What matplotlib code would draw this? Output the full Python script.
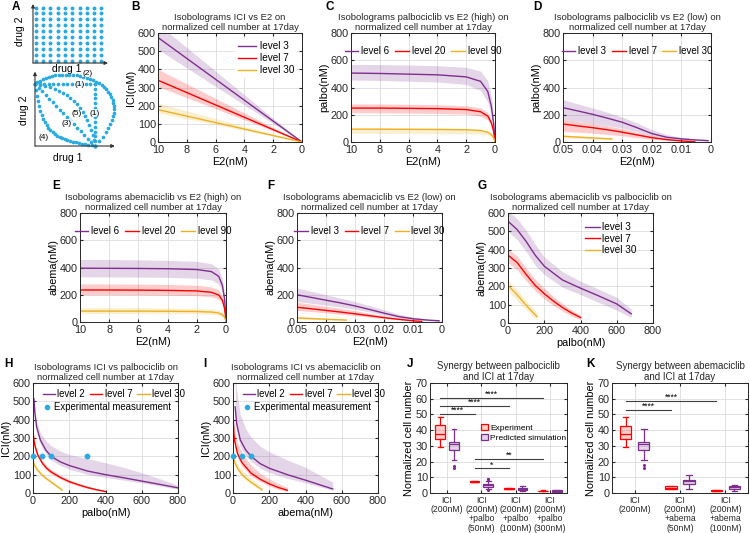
import matplotlib
matplotlib.use('Agg')
import matplotlib.pyplot as plt
from matplotlib.patches import Patch
from matplotlib.lines import Line2D
from matplotlib.colors import to_rgba
import numpy as np

plt.rcParams['font.family'] = ['Liberation Sans', 'DejaVu Sans']

PURPLE = '#7E2F8E'
RED = '#FF0000'
YELLOW = '#EDB120'
DOT = '#29ABE2'

# ---------------- data ----------------
# B: ICI vs E2
b_x = [10, 0]
b_l3 = [575, 0];  b_l3_lo = [510, 0]; b_l3_hi = [650, 0]
b_l7 = [340, 0];  b_l7_lo = [305, 0]; b_l7_hi = [400, 0]
b_l30 = [178, 0]; b_l30_lo = [160, 0]; b_l30_hi = [215, 0]

# C / E: high E2 range
hi_x = [10, 8, 6, 4, 2, 1, 0.5, 0.25, 0.1, 0.03, 0]
c_l6 = [506, 503, 498, 493, 478, 445, 370, 260, 140, 50, 0]
c_l6_hi = [570, 568, 565, 560, 548, 520, 450, 330, 180, 65, 0]
c_l6_lo = [455, 452, 446, 440, 422, 378, 290, 200, 100, 35, 0]
c_l20 = [249, 249, 247, 245, 238, 222, 190, 140, 80, 30, 0]
c_l20_hi = [280, 279, 277, 274, 266, 250, 215, 160, 92, 35, 0]
c_l20_lo = [215, 214, 212, 210, 204, 190, 160, 118, 66, 25, 0]
c_l90 = [94, 94, 93, 92, 90, 84, 72, 54, 32, 12, 0]
c_l90_hi = [104, 104, 103, 102, 99, 93, 80, 60, 36, 14, 0]
c_l90_lo = [62, 62, 62, 61, 60, 57, 50, 38, 22, 8, 0]

e_l6 = [395, 394, 393, 391, 385, 370, 335, 270, 170, 70, 0]
e_l6_hi = [460, 458, 456, 452, 445, 428, 390, 315, 200, 85, 0]
e_l6_lo = [332, 331, 330, 328, 322, 308, 278, 222, 140, 55, 0]
e_l20 = [235, 235, 234, 232, 228, 218, 198, 160, 100, 40, 0]
e_l20_hi = [280, 279, 278, 276, 270, 258, 235, 190, 120, 48, 0]
e_l20_lo = [200, 200, 199, 197, 193, 185, 168, 135, 85, 33, 0]
e_l90 = [80, 80, 80, 79, 77, 73, 66, 54, 34, 14, 0]
e_l90_hi = [105, 105, 104, 103, 100, 95, 86, 70, 44, 18, 0]
e_l90_lo = [62, 62, 62, 61, 60, 57, 51, 42, 26, 10, 0]

# D / F: low E2 range
lo_x3 = [0.05, 0.045, 0.04, 0.035, 0.03, 0.025, 0.02, 0.015, 0.01, 0.005, 0.001]
d_l3 = [252, 228, 203, 175, 145, 105, 62, 35, 23, 15, 10]
d_l3_hi = [310, 280, 250, 218, 183, 140, 90, 55, 33, 20, 13]
d_l3_lo = [168, 152, 135, 120, 103, 75, 42, 25, 16, 10, 7]
d_x7 = [0.05, 0.045, 0.04, 0.035, 0.03, 0.025, 0.02, 0.015, 0.01, 0.0055]
d_l7 = [132, 118, 105, 90, 72, 52, 32, 18, 8, 2]
d_l7_hi = [168, 150, 135, 118, 98, 72, 45, 26, 12, 3]
d_l7_lo = [78, 72, 65, 55, 45, 32, 20, 11, 5, 1]
d_x30 = [0.05, 0.045, 0.04, 0.035, 0.0335]
d_l30 = [42, 36, 30, 24, 22]
d_l30_hi = [52, 45, 38, 31, 28]
d_l30_lo = [30, 26, 22, 18, 16]

f_l3 = [200, 180, 160, 140, 118, 92, 65, 40, 24, 14, 9]
f_l3_hi = [250, 225, 200, 175, 150, 120, 90, 58, 35, 20, 13]
f_l3_lo = [150, 137, 124, 110, 95, 74, 50, 30, 17, 10, 6]
f_x7 = [0.05, 0.045, 0.04, 0.035, 0.03, 0.025, 0.02, 0.015, 0.01, 0.007]
f_l7 = [108, 97, 85, 73, 60, 46, 32, 20, 9, 4]
f_l7_hi = [145, 130, 115, 100, 83, 65, 45, 28, 13, 6]
f_l7_lo = [85, 76, 67, 57, 47, 36, 25, 15, 7, 3]
f_x30 = [0.05, 0.045, 0.04, 0.035, 0.033]
f_l30 = [30, 25, 20, 16, 14]
f_l30_hi = [42, 35, 29, 23, 21]
f_l30_lo = [22, 18, 14, 11, 10]

# G: abema vs palbo
g_x3 = [0, 50, 100, 150, 200, 300, 400, 500, 600, 680]
g_l3 = [555, 510, 445, 370, 310, 235, 190, 148, 104, 50]
g_l3_hi = [610, 570, 505, 430, 360, 280, 228, 185, 140, 75]
g_l3_lo = [500, 455, 390, 315, 265, 195, 155, 112, 70, 30]
g_x7 = [0, 50, 100, 150, 200, 250, 300, 350, 400]
g_l7 = [370, 330, 265, 205, 160, 120, 85, 55, 30]
g_l7_hi = [405, 365, 300, 238, 190, 145, 107, 72, 42]
g_l7_lo = [330, 290, 230, 175, 132, 95, 65, 38, 18]
g_x30 = [0, 40, 80, 120, 160]
g_l30 = [205, 165, 120, 75, 35]
g_l30_hi = [235, 195, 148, 100, 55]
g_l30_lo = [175, 135, 92, 52, 18]

# H: ICI vs palbo
h_x2 = [5, 10, 20, 40, 70, 100, 150, 200, 300, 400, 500, 600, 700, 800]
h_l2 = [515, 440, 360, 290, 235, 200, 170, 150, 120, 100, 83, 65, 47, 28]
h_l2_hi = [520, 460, 390, 330, 285, 258, 230, 210, 188, 165, 140, 110, 78, 42]
h_l2_lo = [510, 425, 340, 270, 215, 180, 150, 130, 102, 85, 70, 55, 38, 20]
h_x7 = [0, 5, 10, 25, 50, 75, 100, 150, 200, 250, 300, 350, 400]
h_l7 = [340, 290, 260, 210, 165, 135, 115, 85, 62, 45, 30, 18, 8]
h_l7_hi = [350, 305, 275, 225, 180, 150, 128, 96, 72, 53, 37, 24, 12]
h_l7_lo = [330, 278, 248, 198, 153, 124, 104, 76, 54, 38, 24, 13, 5]
h_x30 = [0, 5, 10, 25, 50, 75, 100, 130, 160]
h_l30 = [180, 160, 148, 125, 98, 78, 60, 38, 16]
h_l30_hi = [185, 168, 156, 135, 108, 88, 70, 48, 24]
h_l30_lo = [175, 152, 140, 117, 90, 70, 52, 32, 12]
h_exp_x = [0, 50, 100, 300]
h_exp_y = [200, 200, 200, 200]

# I: ICI vs abema
i_x2 = [12, 20, 40, 70, 100, 150, 200, 300, 400, 550]
i_l2 = [470, 380, 290, 235, 200, 160, 135, 100, 70, 22]
i_l2_hi = [640, 560, 430, 350, 305, 255, 225, 180, 140, 60]
i_l2_lo = [430, 340, 255, 205, 172, 135, 112, 80, 55, 15]
i_x7 = [2, 5, 10, 25, 50, 100, 150, 200, 250, 300]
i_l7 = [390, 320, 280, 215, 165, 108, 75, 50, 30, 15]
i_l7_hi = [440, 380, 340, 275, 218, 150, 108, 78, 52, 30]
i_l7_lo = [350, 290, 250, 192, 146, 92, 62, 38, 20, 8]
i_x30 = [0, 10, 25, 50, 75, 100, 130, 160]
i_l30 = [200, 165, 135, 100, 78, 58, 38, 18]
i_l30_hi = [215, 185, 160, 125, 100, 80, 55, 30]
i_l30_lo = [185, 150, 120, 88, 65, 48, 30, 12]
i_exp_x = [0, 50, 100]
i_exp_y = [200, 200, 200]

# J: palbo + ICI boxplots
j_labels = ['ICI\n(200nM)', 'ICI\n(200nM)\n+palbo\n(50nM)',
            'ICI\n(200nM)\n+palbo\n(100nM)', 'ICI\n(200nM)\n+palbo\n(300nM)']
j_exp_med = [37.5, 7.2, 2.8, 1.3]
j_exp_q1 = [34.2, 7.0, 2.6, 1.1]
j_exp_q3 = [43.0, 7.4, 3.0, 1.5]
j_exp_lo = [29.5, 6.9, 2.5, 1.0]
j_exp_hi = [48.2, 7.5, 3.1, 1.6]
j_sim_med = [31.0, 4.9, 2.8, 1.3]
j_sim_q1 = [27.3, 4.0, 2.2, 0.9]
j_sim_q3 = [32.6, 5.8, 3.4, 1.7]
j_sim_lo = [20.8, 2.8, 1.5, 0.6]
j_sim_hi = [40.5, 7.8, 4.2, 2.1]
j_sim_fl = [[17.5, 16.0], [8.6, 2.2, 9.0], [], []]
j_sig = [(1, 4, 60.3, '****'), (1, 3, 55.4, '****'), (1, 2, 50.3, '****'),
         (2, 4, 21.5, '**'), (2, 3, 15.6, '*')]

# K: abema + ICI boxplots
k_labels = ['ICI\n(200nM)', 'ICI\n(200nM)\n+abema\n(50nM)', 'ICI\n(200nM)\n+abema\n(100nM)']
k_exp_med = [37.3, 3.5, 1.5]
k_exp_q1 = [34.3, 2.8, 1.2]
k_exp_q3 = [42.9, 4.3, 1.8]
k_exp_lo = [29.4, 2.6, 1.1]
k_exp_hi = [48.2, 4.5, 1.9]
k_sim_med = [31.1, 7.5, 3.6]
k_sim_q1 = [27.3, 5.5, 2.8]
k_sim_q3 = [32.6, 8.5, 4.5]
k_sim_lo = [20.9, 2.8, 1.3]
k_sim_hi = [40.5, 11.3, 5.3]
k_sim_fl = [[17.7, 16.2], [], []]
k_sig = [(1, 3, 58.6, '****'), (1, 2, 52.9, '****')]

# ---------------- layout ----------------
W, H = 750, 533
fig = plt.figure(figsize=(7.5, 5.33), dpi=100)


def box(l, t, r, b):
    return [l / W, 1 - b / H, (r - l) / W, (b - t) / H]


def style(ax):
    ax.grid(True, color='#dcdcdc', lw=0.6)
    ax.set_axisbelow(True)
    for s in ax.spines.values():
        s.set_color('#262626')
        s.set_linewidth(0.7)
    ax.tick_params(labelsize=7.8, length=2, pad=1.5, direction='in',
                   top=True, right=True, colors='#262626')
    ax.tick_params(axis='x', pad=2.5)


def band(ax, x, y, lo, hi, c, label):
    ax.fill_between(x, lo, hi, color=c, alpha=0.2, lw=0)
    ax.plot(x, y, color=c, lw=1.0, label=label)


def iso_title(ax, s):
    ax.set_title(s + '\nnormalized cell number at 17day', fontsize=6.8,
                 pad=2, linespacing=1.15, color='#262626')


def hleg(ax):
    ax.legend(loc='upper center', ncol=3, fontsize=7, frameon=False,
              handlelength=1.4, handletextpad=0.3, columnspacing=0.6,
              bbox_to_anchor=(0.5, 0.93), borderaxespad=0.2)


# ---- A ----
axa = fig.add_axes(box(33, 4, 108, 63))
axa.set_xlim(-0.4, 9.9)
axa.set_ylim(-0.35, 9.6)
axa.axis('off')
grid_doses = np.arange(10)
gx, gy = np.meshgrid(grid_doses, grid_doses)
axa.scatter(gx.ravel(), gy.ravel(), s=8, color=DOT, lw=0)
for xy in [(9.9, -0.35), (-0.4, 9.6)]:
    axa.annotate('', xy=xy, xytext=(-0.4, -0.35),
                 arrowprops=dict(arrowstyle='-|>', color='#333333', lw=0.8,
                                 mutation_scale=5, shrinkA=0, shrinkB=0))
axa.text(4.3, -0.55, 'drug 1', ha='center', va='top', fontsize=7.5)
axa.text(-1.5, 5, 'drug 2', ha='right', va='center', rotation=90, fontsize=7.5)

axa2 = fig.add_axes(box(33, 70, 122, 148))
axa2.set_xlim(-0.033, 1.45)
axa2.set_ylim(-0.032, 1.226)
axa2.axis('off')
for xy in [(1.33, 0), (0, 1.2)]:
    axa2.annotate('', xy=xy, xytext=(0, 0),
                  arrowprops=dict(arrowstyle='-|>', color='#333333', lw=0.8,
                                  mutation_scale=5, shrinkA=0, shrinkB=0))
P2 = np.array([0.0, 1.0])
P1 = np.array([1.0, 0.0])
corner = np.array([1.0, 1.0])


def bez(pts, n):
    t = np.linspace(0, 1, n)[:, None]
    pts = [np.array(p) for p in pts]
    if len(pts) == 2:
        return (1 - t) * pts[0] + t * pts[1]
    if len(pts) == 3:
        return (1 - t) ** 2 * pts[0] + 2 * (1 - t) * t * pts[1] + t ** 2 * pts[2]
    return ((1 - t) ** 3 * pts[0] + 3 * (1 - t) ** 2 * t * pts[1]
            + 3 * (1 - t) * t ** 2 * pts[2] + t ** 3 * pts[3])


curves = [bez([P2, corner], 14), bez([corner, P1], 14),
          bez([P2, (0.5, 1.4), (1.95, 1.0), P1], 40),
          bez([P2, (0.85, 0.9), P1], 20),
          bez([P2, P1], 18),
          bez([P2, (0.1, 0.05), (0.5, 0.1), P1], 28)]
for cv in curves:
    axa2.scatter(cv[:, 0], cv[:, 1], s=7, color=DOT, lw=0, clip_on=False)
for (tx, ty, s) in [(0.75, 1.0, '(1)'), (1.0, 0.53, '(1)'), (0.88, 1.17, '(2)'),
                    (0.7, 0.52, '(5)'), (0.53, 0.37, '(3)'), (0.14, 0.14, '(4)')]:
    axa2.text(tx, ty, s, fontsize=6, ha='center', va='center',
              bbox=dict(fc='white', ec='none', pad=0.2, alpha=0.8))
axa2.text(0.55, -0.12, 'drug 1', ha='center', va='top', fontsize=7.5)
axa2.text(-0.1, 0.58, 'drug 2', ha='right', va='center', rotation=90, fontsize=7.5)

# ---- B ----
ax = fig.add_axes(box(158, 33, 302, 142))
style(ax)
band(ax, b_x, b_l3, b_l3_lo, b_l3_hi, PURPLE, 'level 3')
band(ax, b_x, b_l7, b_l7_lo, b_l7_hi, RED, 'level 7')
band(ax, b_x, b_l30, b_l30_lo, b_l30_hi, YELLOW, 'level 30')
ax.set_xlim(10, 0)
ax.set_ylim(0, 600)
ax.set_xticks([10, 8, 6, 4, 2, 0])
ax.set_yticks(range(0, 601, 100))
ax.set_xlabel('E2(nM)', fontsize=7.8, labelpad=1)
ax.set_ylabel('ICI(nM)', fontsize=7.8, labelpad=1)
iso_title(ax, 'Isobolograms ICI vs E2 on')
ax.legend(loc='upper right', fontsize=7.2, frameon=True, facecolor='white',
          edgecolor='none', framealpha=1, handlelength=1.8, handletextpad=0.4,
          borderpad=0.3, labelspacing=0.2)

# ---- C ----
ax = fig.add_axes(box(351, 33, 495, 142))
style(ax)
band(ax, hi_x, c_l6, c_l6_lo, c_l6_hi, PURPLE, 'level 6')
band(ax, hi_x, c_l20, c_l20_lo, c_l20_hi, RED, 'level 20')
band(ax, hi_x, c_l90, c_l90_lo, c_l90_hi, YELLOW, 'level 90')
ax.set_xlim(10, 0)
ax.set_ylim(0, 800)
ax.set_xticks([10, 8, 6, 4, 2, 0])
ax.set_yticks(range(0, 801, 200))
ax.set_xlabel('E2(nM)', fontsize=7.8, labelpad=1)
ax.set_ylabel('palbo(nM)', fontsize=7.8, labelpad=1)
iso_title(ax, 'Isobolograms palbociclib vs E2 (high) on')
hleg(ax)

# ---- D ----
ax = fig.add_axes(box(563, 33, 711, 142))
style(ax)
band(ax, lo_x3, d_l3, d_l3_lo, d_l3_hi, PURPLE, 'level 3')
band(ax, d_x7, d_l7, d_l7_lo, d_l7_hi, RED, 'level 7')
band(ax, d_x30, d_l30, d_l30_lo, d_l30_hi, YELLOW, 'level 30')
ax.set_xlim(0.05, 0)
ax.set_ylim(0, 800)
ax.set_xticks([0.05, 0.04, 0.03, 0.02, 0.01, 0])
ax.set_xticklabels(['0.05', '0.04', '0.03', '0.02', '0.01', '0'])
ax.set_yticks(range(0, 801, 200))
ax.set_xlabel('E2(nM)', fontsize=7.8, labelpad=1)
ax.set_ylabel('palbo(nM)', fontsize=7.8, labelpad=1)
iso_title(ax, 'Isobolograms palbociclib vs E2 (low) on')
hleg(ax)

# ---- E ----
ax = fig.add_axes(box(80, 213, 226, 322))
style(ax)
band(ax, hi_x, e_l6, e_l6_lo, e_l6_hi, PURPLE, 'level 6')
band(ax, hi_x, e_l20, e_l20_lo, e_l20_hi, RED, 'level 20')
band(ax, hi_x, e_l90, e_l90_lo, e_l90_hi, YELLOW, 'level 90')
ax.set_xlim(10, 0)
ax.set_ylim(0, 800)
ax.set_xticks([10, 8, 6, 4, 2, 0])
ax.set_yticks(range(0, 801, 200))
ax.set_xlabel('E2(nM)', fontsize=7.8, labelpad=1)
ax.set_ylabel('abema(nM)', fontsize=7.8, labelpad=1)
iso_title(ax, 'Isobolograms abemaciclib vs E2 (high) on')
hleg(ax)

# ---- F ----
ax = fig.add_axes(box(297, 213, 442, 322))
style(ax)
band(ax, lo_x3, f_l3, f_l3_lo, f_l3_hi, PURPLE, 'level 3')
band(ax, f_x7, f_l7, f_l7_lo, f_l7_hi, RED, 'level 7')
band(ax, f_x30, f_l30, f_l30_lo, f_l30_hi, YELLOW, 'level 30')
ax.set_xlim(0.05, 0)
ax.set_ylim(0, 800)
ax.set_xticks([0.05, 0.04, 0.03, 0.02, 0.01, 0])
ax.set_xticklabels(['0.05', '0.04', '0.03', '0.02', '0.01', '0'])
ax.set_yticks(range(0, 801, 200))
ax.set_xlabel('E2(nM)', fontsize=7.8, labelpad=1)
ax.set_ylabel('abema(nM)', fontsize=7.8, labelpad=1)
iso_title(ax, 'Isobolograms abemaciclib vs E2 (low) on')
hleg(ax)

# ---- G ----
ax = fig.add_axes(box(508, 213, 653, 323))
style(ax)
band(ax, g_x3, g_l3, g_l3_lo, g_l3_hi, PURPLE, 'level 3')
band(ax, g_x7, g_l7, g_l7_lo, g_l7_hi, RED, 'level 7')
band(ax, g_x30, g_l30, g_l30_lo, g_l30_hi, YELLOW, 'level 30')
ax.set_xlim(0, 800)
ax.set_ylim(0, 600)
ax.set_xticks(range(0, 801, 200))
ax.set_yticks(range(0, 601, 100))
ax.set_xlabel('palbo(nM)', fontsize=7.8, labelpad=1)
ax.set_ylabel('abema(nM)', fontsize=7.8, labelpad=1)
iso_title(ax, 'Isobolograms abemaciclib vs palbociclib on')
ax.legend(loc='upper left', bbox_to_anchor=(0.5, 0.95), fontsize=7.2,
          frameon=False, handlelength=1.5, handletextpad=0.3, labelspacing=0.15,
          borderaxespad=0)


def hi_legend(ax, lines):
    lg = ax.legend(handles=lines, loc='upper left', ncol=3, fontsize=6.9,
                   frameon=False, handlelength=1.3, handletextpad=0.25,
                   columnspacing=0.5, bbox_to_anchor=(0.04, 0.98), borderaxespad=0)
    ax.add_artist(lg)
    dot = Line2D([], [], ls='none', marker='o', ms=3, color=DOT)
    ax.legend(handles=[dot], labels=['Experimental measurement'], loc='upper left',
              fontsize=6.9, frameon=False, handlelength=1.0, handletextpad=0.2,
              bbox_to_anchor=(0.04, 0.86), borderaxespad=0)


# ---- H ----
ax = fig.add_axes(box(33, 383, 178, 493))
style(ax)
band(ax, h_x2, h_l2, h_l2_lo, h_l2_hi, PURPLE, 'level 2')
band(ax, h_x7, h_l7, h_l7_lo, h_l7_hi, RED, 'level 7')
band(ax, h_x30, h_l30, h_l30_lo, h_l30_hi, YELLOW, 'level 30')
ax.scatter(h_exp_x, h_exp_y, s=10, color=DOT, zorder=5, clip_on=False)
ax.set_xlim(0, 800)
ax.set_ylim(0, 600)
ax.set_xticks(range(0, 801, 200))
ax.set_yticks(range(0, 601, 100))
ax.set_xlabel('palbo(nM)', fontsize=7.8, labelpad=1)
ax.set_ylabel('ICI(nM)', fontsize=7.8, labelpad=1)
iso_title(ax, 'Isobolograms ICI vs palbociclib on')
hi_legend(ax, ax.get_lines()[:3])

# ---- I ----
ax = fig.add_axes(box(233, 383, 378, 493))
style(ax)
band(ax, i_x2, i_l2, i_l2_lo, i_l2_hi, PURPLE, 'level 2')
band(ax, i_x7, i_l7, i_l7_lo, i_l7_hi, RED, 'level 7')
band(ax, i_x30, i_l30, i_l30_lo, i_l30_hi, YELLOW, 'level 30')
ax.scatter(i_exp_x, i_exp_y, s=10, color=DOT, zorder=5, clip_on=False)
ax.set_xlim(0, 800)
ax.set_ylim(0, 600)
ax.set_xticks(range(0, 801, 200))
ax.set_yticks(range(0, 601, 100))
ax.set_xlabel('abema(nM)', fontsize=7.8, labelpad=1)
ax.set_ylabel('ICI(nM)', fontsize=7.8, labelpad=1)
iso_title(ax, 'Isobolograms ICI vs abemaciclib on')
hi_legend(ax, ax.get_lines()[:3])


# ---- boxplots ----
def draw_boxes(ax, med, q1, q3, lo, hi, fl, pos, color, width):
    stats = []
    for i in range(len(med)):
        stats.append(dict(med=med[i], q1=q1[i], q3=q3[i], whislo=lo[i],
                          whishi=hi[i], fliers=fl[i] if fl else []))
    res = ax.bxp(stats, positions=pos, widths=width, patch_artist=True,
                 boxprops=dict(edgecolor=color, lw=0.9),
                 medianprops=dict(color=color, lw=0.9),
                 whiskerprops=dict(color=color, lw=0.9),
                 capprops=dict(color=color, lw=0.9),
                 flierprops=dict(marker='.', ms=2.5, mfc=color, mec=color))
    for b in res['boxes']:
        b.set_facecolor(to_rgba(color, 0.2))
        b.set_edgecolor(color)


def box_axes(ax, labels, title):
    n = len(labels)
    ax.set_xlim(0.5, n + 0.5)
    ax.set_ylim(0, 70)
    ax.set_yticks(range(0, 71, 10))
    ax.set_xticks(np.arange(1, n + 1))
    ax.set_xticklabels(labels, fontsize=6.2, linespacing=1.05)
    ax.tick_params(axis='x', pad=2)
    ax.set_ylabel('Normalized cell number', fontsize=7.8, labelpad=1)
    ax.set_title(title, fontsize=7, pad=2, linespacing=1.15, color='#262626')


def sig_bars(ax, sig):
    for a, b, y, lab in sig:
        ax.plot([a - 0.2, b - 0.2], [y, y], color='#404040', lw=0.8)
        ax.text((a + b) / 2 - 0.2, y - 0.6, lab, ha='center', va='bottom', fontsize=6.2)


ax = fig.add_axes(box(430, 383, 567, 493))
style(ax)
g = np.arange(1, 5)
draw_boxes(ax, j_exp_med, j_exp_q1, j_exp_q3, j_exp_lo, j_exp_hi, None, g - 0.2, RED, 0.28)
draw_boxes(ax, j_sim_med, j_sim_q1, j_sim_q3, j_sim_lo, j_sim_hi, j_sim_fl, g + 0.2, PURPLE, 0.28)
sig_bars(ax, j_sig)
box_axes(ax, j_labels, 'Synergy between palbociclib\nand ICI at 17day')
ax.legend(handles=[Patch(fc=to_rgba(RED, 0.2), ec=RED, lw=0.9),
                   Patch(fc=to_rgba(PURPLE, 0.2), ec=PURPLE, lw=0.9)],
          labels=['Experiment', 'Predicted simulation'], loc='upper left',
          bbox_to_anchor=(0.35, 0.66), fontsize=6.0, frameon=False,
          handlelength=0.8, handleheight=0.8, handletextpad=0.3, labelspacing=0.25,
          borderaxespad=0)

ax = fig.add_axes(box(612, 383, 748, 493))
style(ax)
g = np.arange(1, 4)
draw_boxes(ax, k_exp_med, k_exp_q1, k_exp_q3, k_exp_lo, k_exp_hi, None, g - 0.2, RED, 0.25)
draw_boxes(ax, k_sim_med, k_sim_q1, k_sim_q3, k_sim_lo, k_sim_hi, k_sim_fl, g + 0.2, PURPLE, 0.25)
sig_bars(ax, k_sig)
box_axes(ax, k_labels, 'Synergy between abemaciclib\nand ICI at 17day')

# panel letters
for lab, x, y in [('A', 12, 7), ('B', 131, 7), ('C', 325, 7), ('D', 533, 7),
                  ('E', 52, 186), ('F', 267, 186), ('G', 477, 186),
                  ('H', 4, 364), ('I', 203, 364), ('J', 407, 364), ('K', 586, 364)]:
    fig.text(x / W, 1 - y / H, lab, fontsize=8.5, fontweight='bold', va='center')

fig.savefig('out.png', dpi=100)
